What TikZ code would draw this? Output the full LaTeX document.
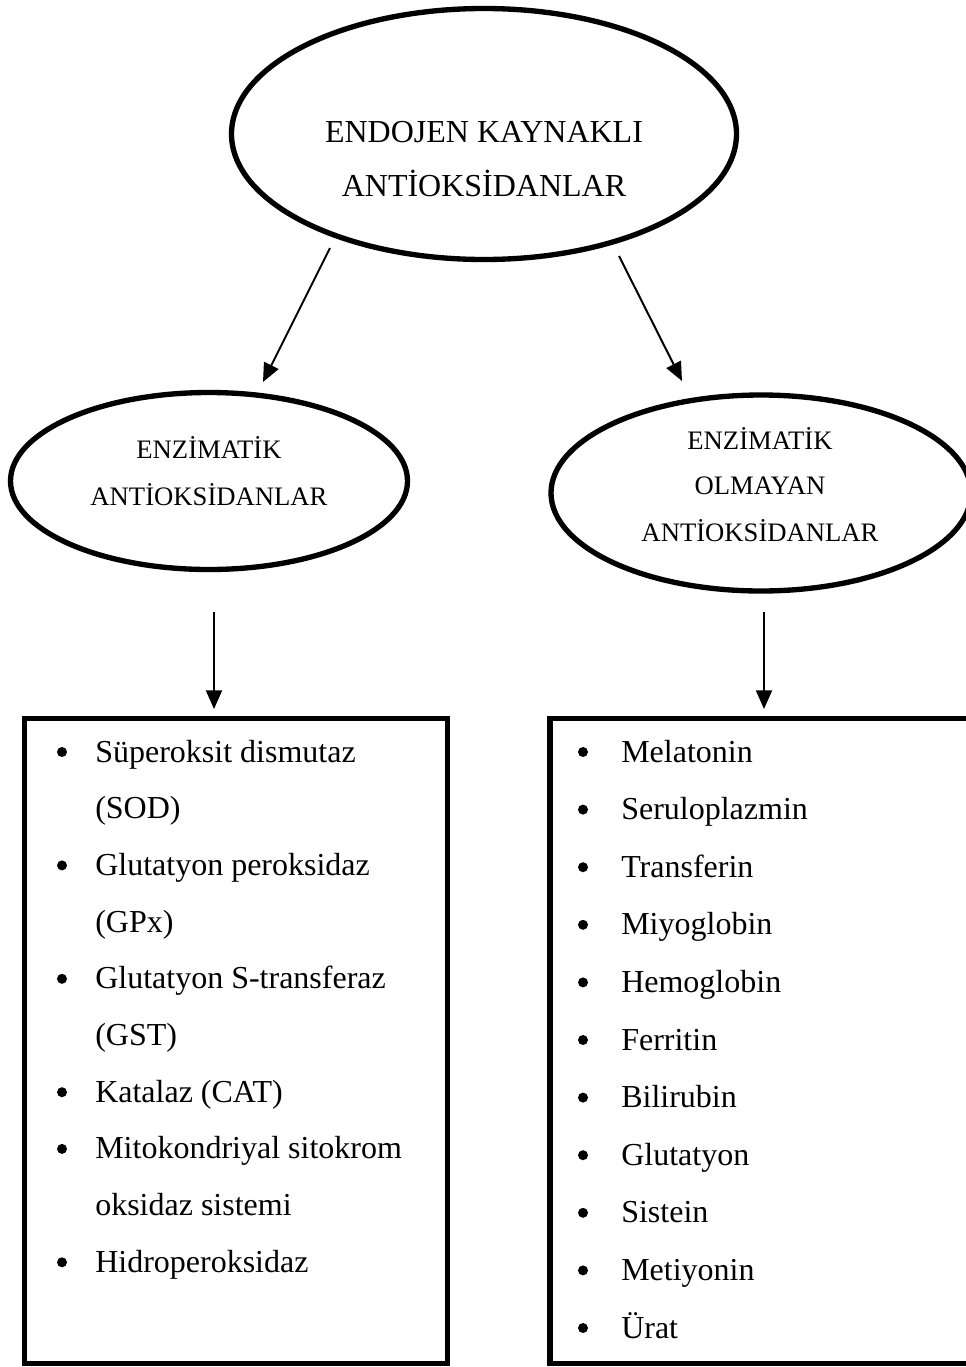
\documentclass[tikz,border=0pt]{standalone}
\usepackage{fontspec}
\setmainfont{Liberation Serif}
\usetikzlibrary{shapes.geometric,arrows.meta}
\begin{document}
\begin{tikzpicture}[x=0.75pt,y=-0.75pt,
  oval/.style={draw,ellipse,line width=4pt,inner sep=0pt},
  listbox/.style={draw,line width=3.9pt,inner sep=0pt},
  arr/.style={line width=1.5pt,-{Triangle[length=14pt,width=12pt]}},
  big/.style={font=\fontsize{24pt}{28pt}\selectfont,anchor=base,inner sep=0pt},
  mid/.style={font=\fontsize{20pt}{24pt}\selectfont,anchor=base,inner sep=0pt},
  itemtxt/.style={font=\fontsize{24pt}{28pt}\selectfont,anchor=base west,inner sep=0pt},
  dot/.style={circle,fill,inner sep=0pt,minimum size=7.5pt}]
\useasboundingbox (0,0) rectangle (966,1367);
\clip (0,0) rectangle (966,1367);

% ellipses
\node[oval,minimum width=0.75*505pt,minimum height=0.75*251pt] (top) at (484,134) {};
\node[oval,minimum width=0.75*397pt,minimum height=0.75*177pt] (enz) at (209,481) {};
\node[oval,minimum width=0.75*420pt,minimum height=0.75*196pt] (nonenz) at (761,493) {};

% ellipse texts
\node[big] (t1) at (484,142) {ENDOJEN KAYNAKLI};
\node[big] (t2) at (484,196) {ANTİOKSİDANLAR};
\node[mid] (e1) at (209,458) {ENZİMATİK};
\node[mid] (e2) at (209,505) {ANTİOKSİDANLAR};
\node[mid] (n1) at (760,449) {ENZİMATİK};
\node[mid] (n2) at (760,494) {OLMAYAN};
\node[mid] (n3) at (760,541) {ANTİOKSİDANLAR};

% boxes
\node[listbox,minimum width=0.75*423pt,minimum height=0.75*645pt] (lbox) at (236,1041) {};
\node[listbox,minimum width=0.75*440pt,minimum height=0.75*645pt] (rbox) at (770,1041) {};

% arrows
\coordinate (a1s) at (330,248);
\coordinate (a1e) at (263,382);
\coordinate (a2s) at (619,256);
\coordinate (a2e) at (682,381);
\coordinate (a3s) at (214,612);
\coordinate (a3e) at (214,709);
\coordinate (a4s) at (764,612);
\coordinate (a4e) at (764,709);
\draw[arr] (a1s) -- (a1e);
\draw[arr] (a2s) -- (a2e);
\draw[arr] (a3s) -- (a3e);
\draw[arr] (a4s) -- (a4e);

% left list
\foreach \b/\t [count=\i from 0] in {1/Süperoksit dismutaz, 0/(SOD), 1/Glutatyon peroksidaz, 0/(GPx), 1/Glutatyon S-transferaz, 0/(GST), 1/Katalaz (CAT), 1/Mitokondriyal sitokrom, 0/oksidaz sistemi, 1/Hidroperoksidaz}{
  \node[itemtxt] (L\i) at (95,{762+\i*56.7}) {\t};
  \ifnum\b=1 \node[dot] (LB\i) at (62,{752+\i*56.7}) {};\fi
}

% right list
\foreach \t [count=\i from 0] in {Melatonin, Seruloplazmin, Transferin, Miyoglobin, Hemoglobin, Ferritin, Bilirubin, Glutatyon, Sistein, Metiyonin, Ürat}{
  \node[itemtxt] (R\i) at (621,{762+\i*57.6}) {\t};
  \node[dot] (RB\i) at (583,{752+\i*57.6}) {};
}
\end{tikzpicture}
\end{document}
